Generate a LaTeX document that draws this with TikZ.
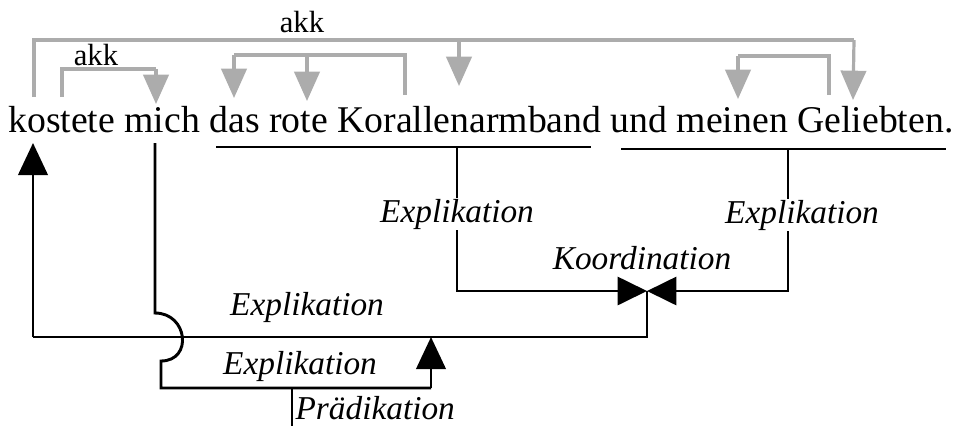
\documentclass[tikz,border=0pt]{standalone}
\usepackage{fontspec}
\setmainfont{Liberation Serif}
\usetikzlibrary{arrows.meta}
\begin{document}
\begin{tikzpicture}[x=0.75pt,y=-0.75pt,
  grayline/.style={draw=gray!65,line width=2.4pt},
  grayarrow/.style={grayline,-{Triangle[width=19pt,length=22pt,fill=gray!65]}},
  blackline/.style={draw=black,line width=2.2pt},
  blackarrow/.style={blackline,-{Triangle[width=22pt,length=24pt]}},
  lab/.style={font=\fontsize{25}{29}\selectfont\itshape,inner sep=1pt},
  akklab/.style={font=\fontsize{23}{26}\selectfont,inner sep=0pt,anchor=base},
  line cap=butt]
\useasboundingbox (0,0) rectangle (956,426);

% sentence
\node[anchor=base west,inner sep=0pt,font=\fontsize{28.3}{32}\selectfont] (s) at (8,132)
  {kostete mich das rote Korallenarmband und meinen Geliebten.};

% ---- top gray connectors ----
\coordinate (a1) at (34,97);
\coordinate (a1t) at (34,40);
\coordinate (a1r) at (854,40);
\coordinate (a1e) at (853,100);
\coordinate (a1m) at (459,40);
\coordinate (a1me) at (459,86);
\node[akklab] (akk1) at (302,32) {akk};
\draw[grayline] (a1) -- (a1t) -- (a1r);
\draw[grayarrow] (a1r) -- (a1e);
\draw[grayarrow] (a1m) -- (a1me);

\coordinate (b1) at (62,97);
\coordinate (b1t) at (62,69);
\coordinate (b1r) at (156,69);
\coordinate (b1e) at (156,104);
\node[akklab] (akk2) at (96,65) {akk};
\draw[grayline] (b1) -- (b1t) -- (b1r);
\draw[grayarrow] (b1r) -- (b1e);

\coordinate (c1) at (405,95);
\coordinate (c1t) at (405,55);
\coordinate (c1l) at (234,55);
\coordinate (c1e) at (234,98);
\coordinate (c1m) at (307,55);
\coordinate (c1me) at (307,101);
\draw[grayline] (c1) -- (c1t) -- (c1l);
\draw[grayarrow] (c1l) -- (c1e);
\draw[grayarrow] (c1m) -- (c1me);

\coordinate (d1) at (829,95);
\coordinate (d1t) at (829,56);
\coordinate (d1l) at (738,56);
\coordinate (d1e) at (738,99);
\draw[grayline] (d1) -- (d1t) -- (d1l);
\draw[grayarrow] (d1l) -- (d1e);

% ---- bottom black structure ----
\coordinate (u1l) at (216,147);
\coordinate (u1r) at (591,147);
\coordinate (u2l) at (621,149);
\coordinate (u2r) at (946,149);
\draw[blackline] (u1l) -- (u1r);
\draw[blackline] (u2l) -- (u2r);

\coordinate (v1t) at (457,147);
\coordinate (v1b) at (457,291);
\coordinate (v2t) at (788,149);
\coordinate (v2b) at (788,291);
\coordinate (kx) at (647,291);
\coordinate (kl) at (615,291);
\coordinate (kr) at (679,291);
\draw[blackline] (v1t) -- (v1b) -- (kl);
\draw[blackline] (v2t) -- (v2b) -- (kr);
\draw[blackline,-{Triangle[width=21pt,length=22pt]}] (kl) -- (kx);
\draw[blackline,-{Triangle[width=21pt,length=22pt]}] (kr) -- (kx);

\node[lab,fill=white] (ex1) at (457,214) {Explikation};
\node[lab,fill=white] (ex2) at (802,215) {Explikation};
\node[lab] (koord) at (642,258) {Koordination};

\coordinate (kd) at (647,337);
\coordinate (ll) at (33,337);
\coordinate (lt) at (33,143);
\draw[blackline] (kx) -- (kd) -- (ll);
\draw[blackarrow] (ll) -- (lt);

\coordinate (m1) at (155,143);
\coordinate (m2) at (155,313);
\coordinate (m3) at (161,361);
\coordinate (m4) at (161,388);
\coordinate (m5) at (431,388);
\coordinate (m6) at (431,337);
\draw[blackline] (m1) -- (m2) .. controls (188,313) and (193,361) .. (m3) -- (m4) -- (m5);
\draw[blackarrow] (m5) -- (m6);

\coordinate (p1) at (292,388);
\coordinate (p2) at (292,426);
\draw[blackline] (p1) -- (p2);

\node[lab] (ex3) at (307,307) {Explikation};
\node[lab] (ex4) at (300,366) {Explikation};
\node[lab,anchor=west] (pr) at (294,408) {Prädikation};
\end{tikzpicture}
\end{document}
